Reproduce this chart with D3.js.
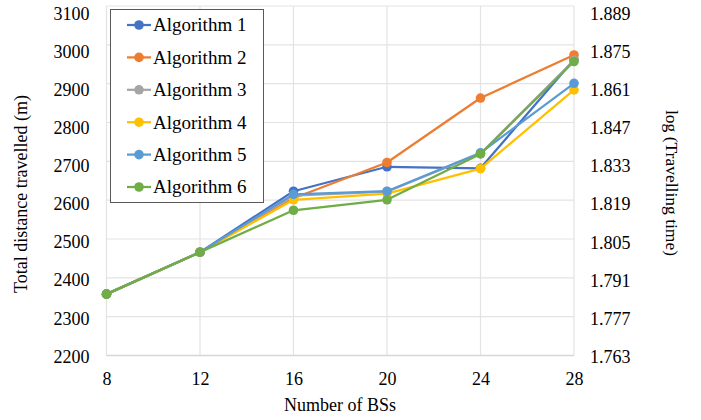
<!DOCTYPE html>
<html>
<head>
<meta charset="utf-8">
<script src="https://cdn.jsdelivr.net/npm/d3@7"></script>
<style>
html,body{margin:0;padding:0;background:#fff;}
</style>
</head>
<body>
<svg id="chart" width="701" height="420"></svg>
<script>
const xValues = [8, 12, 16, 20, 24, 28];
const seriesNames = ["Algorithm 1", "Algorithm 2", "Algorithm 3", "Algorithm 4", "Algorithm 5", "Algorithm 6"];
const alg1 = [2358, 2466, 2623, 2686, 2682, 2962];
const alg2 = [2358, 2466, 2605, 2697, 2863, 2974];
const alg3 = [2358, 2466, 2612, 2622, 2720, 2960];
const alg4 = [2358, 2466, 2601, 2617, 2681, 2884];
const alg5 = [2358, 2466, 2615, 2623, 2722, 2901];
const alg6 = [2358, 2466, 2574, 2601, 2719, 2957];
const seriesColors = ["#4472C4", "#ED7D31", "#A5A5A5", "#FFC000", "#5B9BD5", "#70AD47"];
const leftTicks = [2200, 2300, 2400, 2500, 2600, 2700, 2800, 2900, 3000, 3100];
const rightTicks = ["1.763", "1.777", "1.791", "1.805", "1.819", "1.833", "1.847", "1.861", "1.875", "1.889"];
const xLabel = "Number of BSs";
const yLabel = "Total distance travelled (m)";
const y2Label = "log (Travelling time)";

const allSeries = [alg1, alg2, alg3, alg4, alg5, alg6];
const FONT = "'Liberation Serif','Times New Roman',serif";

const svg = d3.select("#chart");
const x = d3.scaleLinear().domain([8, 28]).range([106.5, 574]);
const y = d3.scaleLinear().domain([2200, 3100]).range([355.5, 6]);
// tick-label positions (labels sit slightly lower than gridlines near the top, as in the reference)
const yLab = d3.scaleLinear().domain([2200, 3100]).range([356, 13]);
const y2Lab = d3.scaleLinear().domain([+rightTicks[0], +rightTicks[rightTicks.length - 1]]).range([356.5, 13]);

// gridlines
const grid = svg.append("g");
grid.selectAll("line.h").data(leftTicks).join("line")
  .attr("x1", x(8)).attr("x2", x(28))
  .attr("y1", d => y(d)).attr("y2", d => y(d))
  .attr("stroke", "#e3e3e3").attr("stroke-width", 1.2);
grid.selectAll("line.v").data(xValues).join("line")
  .attr("x1", d => x(d)).attr("x2", d => x(d))
  .attr("y1", y(2200)).attr("y2", y(3100))
  .attr("stroke", "#e3e3e3").attr("stroke-width", 1.2);
svg.append("line").attr("x1", x(8)).attr("x2", x(28)).attr("y1", y(2200)).attr("y2", y(2200))
  .attr("stroke", "#d6d6d6").attr("stroke-width", 1.3);

// left axis labels
const leftAxis = svg.append("g").attr("transform", `translate(${x(8)},0)`)
  .call(d3.axisLeft(yLab).tickValues(leftTicks).tickFormat(d3.format("d")).tickSize(0).tickPadding(17));
leftAxis.select(".domain").remove();
leftAxis.attr("font-family", null).attr("font-size", null);
leftAxis.selectAll("text").style("font-size", "18px").style("font-family", FONT).attr("dy", "0.34em");

// right axis labels
const rightAxis = svg.append("g").attr("transform", `translate(${x(28)},0)`)
  .call(d3.axisRight(y2Lab).tickValues(rightTicks.map(Number)).tickFormat((d, i) => rightTicks[i]).tickSize(0).tickPadding(16));
rightAxis.select(".domain").remove();
rightAxis.attr("font-family", null).attr("font-size", null);
rightAxis.selectAll("text").style("font-size", "18px").style("font-family", FONT).attr("dy", "0.34em");

// bottom axis
const bottomAxis = svg.append("g").attr("transform", `translate(0,${y(2200)})`)
  .call(d3.axisBottom(x).tickValues(xValues).tickFormat(d3.format("d")).tickSize(0).tickPadding(17));
bottomAxis.select(".domain").remove();
bottomAxis.attr("font-family", null).attr("font-size", null);
bottomAxis.selectAll("text").style("font-size", "18px").style("font-family", FONT);

// axis titles
svg.append("text").attr("x", 340).attr("y", 411).attr("text-anchor", "middle")
  .style("font-size", "18px").style("font-family", FONT).text(xLabel);
svg.append("text").attr("transform", "translate(27,194) rotate(-90)").attr("text-anchor", "middle")
  .style("font-size", "18px").style("font-family", FONT).text(yLabel);
svg.append("text").attr("transform", "translate(666,183) rotate(90)").attr("text-anchor", "middle")
  .style("font-size", "17.5px").style("font-family", FONT).text(y2Label);

// series
const line = d3.line().x((d, i) => x(xValues[i])).y(d => y(d));
allSeries.forEach((vals, si) => {
  const g = svg.append("g");
  g.append("path").datum(vals).attr("d", line).attr("fill", "none")
    .attr("stroke", seriesColors[si]).attr("stroke-width", 2.25).attr("stroke-linejoin", "round");
  g.selectAll("circle").data(vals).join("circle")
    .attr("cx", (d, i) => x(xValues[i])).attr("cy", d => y(d)).attr("r", 4.8)
    .attr("fill", seriesColors[si]);
});

// legend
const legend = svg.append("g");
legend.append("rect").attr("x", 110.5).attr("y", 9.5).attr("width", 153).attr("height", 193)
  .attr("fill", "#fff").attr("stroke", "#595959").attr("stroke-width", 1);
const ly = d3.scalePoint().domain(seriesNames).range([25, 187]);
seriesNames.forEach((name, i) => {
  const yy = ly(name);
  legend.append("line").attr("x1", 127).attr("x2", 151).attr("y1", yy).attr("y2", yy)
    .attr("stroke", seriesColors[i]).attr("stroke-width", 2.25);
  legend.append("circle").attr("cx", 139).attr("cy", yy).attr("r", 4.8).attr("fill", seriesColors[i]);
  legend.append("text").attr("x", 153).attr("y", yy).attr("dy", "0.34em")
    .style("font-size", "19px").style("font-family", FONT).text(name);
});
</script>
</body>
</html>
